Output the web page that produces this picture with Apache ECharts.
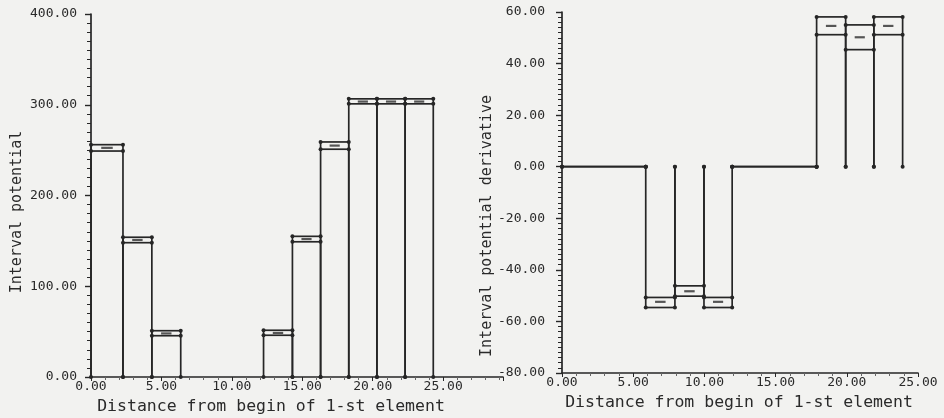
<!DOCTYPE html>
<html>
<head>
<meta charset="utf-8">
<script src="https://cdn.jsdelivr.net/npm/echarts@6/dist/echarts.min.js"></script>
<style>
html,body{margin:0;padding:0;background:#f2f2f0;}
#chart{width:944px;height:418px;}
</style>
</head>
<body>
<div id="chart"></div>
<script>
// ---- Left chart: interval potential ----
const leftStart = [0, 2.27, 4.32, 12.25, 14.3, 16.3, 18.3, 20.3, 22.3];
const leftEnd   = [2.27, 4.32, 6.37, 14.3, 16.3, 18.3, 20.3, 22.3, 24.3];
const leftLower = [249, 148, 45.5, 46, 149, 251, 301, 301, 301];
const leftUpper = [256, 154, 51, 51.5, 155, 259, 306.5, 306.5, 306.5];
const leftMid   = [252.5, 151, 48, 48.5, 152, 255, 303.5, 303.5, 303.5];

// ---- Right chart: interval potential derivative ----
const rightStart = [0, 5.88, 7.93, 9.97, 11.95, 17.88, 19.92, 21.9];
const rightEnd   = [5.88, 7.93, 9.97, 11.95, 17.88, 19.92, 21.9, 23.92];
const rightLower = [0, -54.6, -50.2, -54.6, 0, 51.2, 45.4, 51.2];
const rightUpper = [0, -50.7, -46.2, -50.7, 0, 58.1, 55.0, 58.1];
const rightMid   = [null, -52.4, -48.3, -52.4, null, 54.6, 50.2, 54.6];

// tick labels / titles
const xName = 'Distance from begin of 1-st element';
const leftYName = 'Interval potential';
const rightYName = 'Interval potential derivative';

const INK = '#262626';
const MONO = '"DejaVu Sans Mono", monospace';

function buildData(s, e, lo, hi, mid) {
  return s.map((v, i) => [v, e[i], lo[i], hi[i], mid[i] == null ? NaN : mid[i]]);
}

function renderBox(params, api) {
  const s = api.value(0), e = api.value(1), lo = api.value(2), hi = api.value(3), mid = api.value(4);
  const ps = api.coord([s, 0]), pe = api.coord([e, 0]);
  const y0 = ps[1];
  const yLo = api.coord([s, lo])[1];
  const yHi = api.coord([s, hi])[1];
  const far = Math.abs(yLo - y0) > Math.abs(yHi - y0) ? yLo : yHi;
  const x1 = ps[0], x2 = pe[0];
  const ls = { stroke: INK, lineWidth: 1.7 };
  const ch = [];
  ch.push({ type: 'line', shape: { x1: x1, y1: y0, x2: x1, y2: far }, style: ls });
  ch.push({ type: 'line', shape: { x1: x2, y1: y0, x2: x2, y2: far }, style: ls });
  ch.push({ type: 'line', shape: { x1: x1, y1: yHi, x2: x2, y2: yHi }, style: ls });
  ch.push({ type: 'line', shape: { x1: x1, y1: yLo, x2: x2, y2: yLo }, style: ls });
  if (!isNaN(mid)) {
    const ym = api.coord([s, mid])[1];
    const w = (x2 - x1);
    ch.push({ type: 'line', shape: { x1: x1 + w * 0.32, y1: ym, x2: x1 + w * 0.68, y2: ym },
      style: { stroke: '#555', lineWidth: 2.2 } });
  }
  [y0, yLo, yHi].forEach(y => {
    ch.push({ type: 'circle', shape: { cx: x1, cy: y, r: 2 }, style: { fill: INK } });
    ch.push({ type: 'circle', shape: { cx: x2, cy: y, r: 2 }, style: { fill: INK } });
  });
  return { type: 'group', children: ch };
}

const axisLine = { show: true, onZero: false, lineStyle: { color: INK, width: 1.7 } };
const labelStyle = { color: '#2a2a2a', fontFamily: MONO, fontSize: 13 };

const chart = echarts.init(document.getElementById('chart'), null, { renderer: 'canvas' });
chart.setOption({
  backgroundColor: '#f2f2f0',
  animation: false,
  grid: [
    { left: 91, top: 14, width: 412, height: 363 },
    { left: 562, top: 12, width: 356, height: 361 }
  ],
  xAxis: [
    { type: 'value', gridIndex: 0, min: 0, max: 29.25, interval: 5,
      axisLine: axisLine,
      axisTick: { show: true, length: 4, lineStyle: { color: INK } },
      minorTick: { show: true, splitNumber: 5, length: 3, lineStyle: { color: '#666' } },
      splitLine: { show: false },
      axisLabel: Object.assign({ margin: 3, showMaxLabel: false, formatter: v => v <= 25 ? v.toFixed(2) : '' }, labelStyle) },
    { type: 'value', gridIndex: 1, min: 0, max: 25, interval: 5,
      axisLine: axisLine,
      axisTick: { show: true, length: 4, lineStyle: { color: INK } },
      minorTick: { show: true, splitNumber: 5, length: 3, lineStyle: { color: '#666' } },
      splitLine: { show: false },
      axisLabel: Object.assign({ margin: 3, formatter: v => v.toFixed(2) }, labelStyle) }
  ],
  yAxis: [
    { type: 'value', gridIndex: 0, min: 0, max: 400, interval: 100,
      axisLine: axisLine,
      axisTick: { show: true, length: 6, lineStyle: { color: INK, width: 1.4 } },
      minorTick: { show: true, splitNumber: 10, length: 4, lineStyle: { color: INK } },
      splitLine: { show: false },
      axisLabel: Object.assign({ margin: 14, formatter: v => v.toFixed(2) }, labelStyle) },
    { type: 'value', gridIndex: 1, min: -80, max: 60, interval: 20,
      axisLine: axisLine,
      axisTick: { show: true, length: 6, lineStyle: { color: INK, width: 1.4 } },
      minorTick: { show: true, splitNumber: 10, length: 4, lineStyle: { color: INK } },
      splitLine: { show: false },
      axisLabel: Object.assign({ margin: 17, formatter: v => v.toFixed(2) }, labelStyle) }
  ],
  graphic: [
    { type: 'text', x: 271, y: 407, style: { text: xName, fill: '#2a2a2a', font: '16.5px ' + MONO, textAlign: 'center', textVerticalAlign: 'middle' } },
    { type: 'text', x: 739, y: 403, style: { text: xName, fill: '#2a2a2a', font: '16.5px ' + MONO, textAlign: 'center', textVerticalAlign: 'middle' } },
    { type: 'text', x: 17, y: 212, rotation: Math.PI / 2, style: { text: leftYName, fill: '#2a2a2a', font: '15px ' + MONO, textAlign: 'center', textVerticalAlign: 'middle' } },
    { type: 'text', x: 487, y: 226, rotation: Math.PI / 2, style: { text: rightYName, fill: '#2a2a2a', font: '15px ' + MONO, textAlign: 'center', textVerticalAlign: 'middle' } }
  ],
  series: [
    { type: 'custom', xAxisIndex: 0, yAxisIndex: 0, renderItem: renderBox,
      encode: { x: [0, 1], y: [2, 3, 4] },
      data: buildData(leftStart, leftEnd, leftLower, leftUpper, leftMid) },
    { type: 'custom', xAxisIndex: 1, yAxisIndex: 1, renderItem: renderBox,
      encode: { x: [0, 1], y: [2, 3, 4] },
      data: buildData(rightStart, rightEnd, rightLower, rightUpper, rightMid) }
  ]
});
</script>
</body>
</html>
